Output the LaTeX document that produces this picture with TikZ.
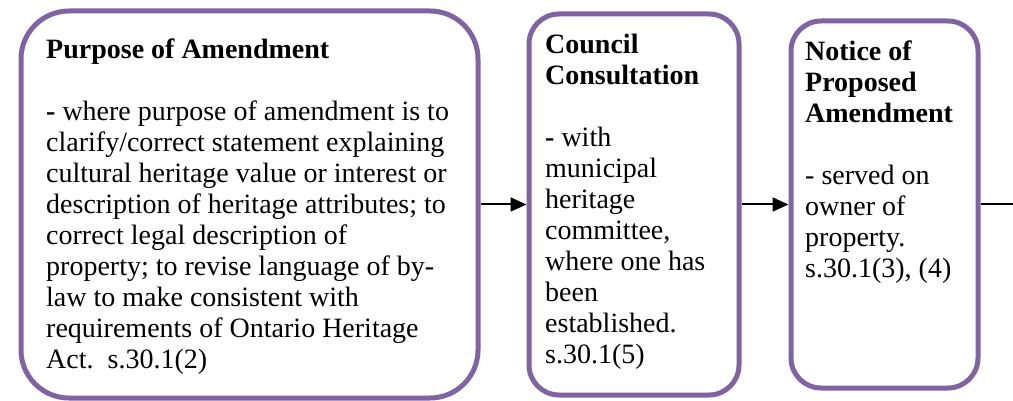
\documentclass[tikz,border=0pt]{standalone}
\usepackage{fontspec}
\setmainfont{Liberation Serif}
\usetikzlibrary{arrows.meta}
\definecolor{boxpurple}{HTML}{8064A2}

\begin{document}
\begin{tikzpicture}[x=1pt,y=-1pt,
  stepbox/.style={draw=boxpurple,line width=5pt,rounded corners=30pt,inner sep=0pt,fill=white},
  steptext/.style={anchor=north west,align=left,inner sep=0pt,font=\fontsize{28}{31}\selectfont},
  flow/.style={line width=2pt,-{Triangle[length=16pt,width=14pt]}}]
\useasboundingbox (0,0) rectangle (1013,401);
\node[stepbox,rounded corners=48pt,minimum width=457pt,minimum height=387pt] (purpose) at (249.5,204.5) {};
\node[stepbox,minimum width=210pt,minimum height=381pt] (consult) at (634,204.5) {};
\node[stepbox,minimum width=187pt,minimum height=367pt] (notice) at (884.5,204.5) {};
\coordinate (exit) at (1013,204.5);

\node[steptext] (purposetxt) at (46,39) {\textbf{Purpose of Amendment}\\[31pt]
  \textbf{-} where purpose of amendment is to\\
  clarify/correct statement explaining\\
  cultural heritage value or interest or\\
  description of heritage attributes; to\\
  correct legal description of\\
  property; to revise language of by-\\
  law to make consistent with\\
  requirements of Ontario Heritage\\
  Act.\ \ s.30.1(2)};
\node[steptext] (consulttxt) at (545,34) {\textbf{Council}\\
  \textbf{Consultation}\\[31pt]
  \textbf{-} with\\
  municipal\\
  heritage\\
  committee,\\
  where one has\\
  been\\
  established.\\
  s.30.1(5)};
\node[steptext] (noticetxt) at (805,41) {\textbf{Notice of}\\
  \textbf{Proposed}\\
  \textbf{Amendment}\\[31pt]
  - served on\\
  owner of\\
  property.\\
  s.30.1(3), (4)};

\draw[flow] (purpose) -- (consult);
\draw[flow] (consult) -- (notice);
\draw[line width=2pt] (notice) -- (exit);
\end{tikzpicture}
\end{document}
